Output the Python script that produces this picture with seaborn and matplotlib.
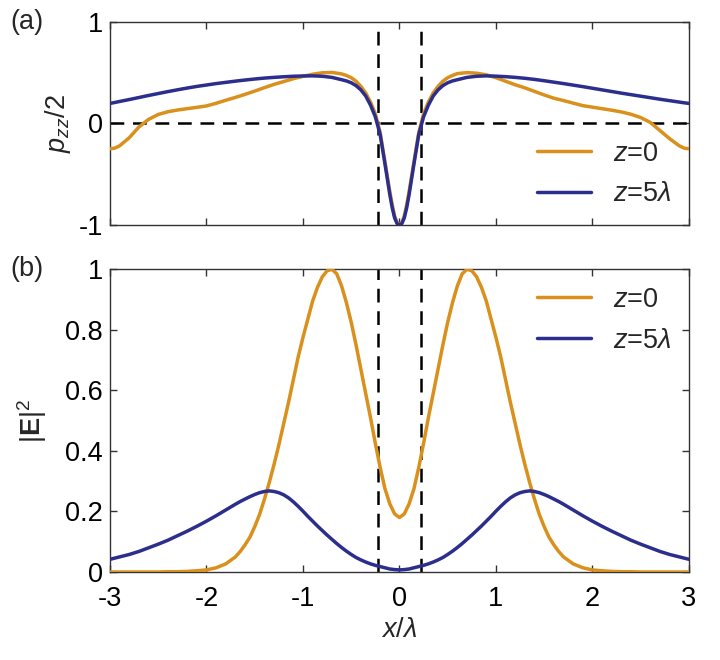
import numpy as np
import pandas as pd
import matplotlib
matplotlib.use('Agg')
import matplotlib.pyplot as plt
import seaborn as sns

# ---- (a) p_zz/2 ----
top_x = [-3.0, -2.95, -2.9, -2.8, -2.7, -2.6, -2.5, -2.4, -2.3, -2.2, -2.1, -2.0, -1.9, -1.8, -1.7, -1.6,
         -1.5, -1.4, -1.3, -1.2, -1.1, -1.0, -0.9, -0.8, -0.7, -0.6,
         -0.55, -0.5, -0.45, -0.4, -0.35, -0.3, -0.25, -0.2, -0.15, -0.1, -0.075, -0.05, -0.025, 0.0,
         0.025, 0.05, 0.075, 0.1, 0.15, 0.2, 0.25, 0.3, 0.35, 0.4, 0.45, 0.5, 0.55,
         0.6, 0.7, 0.8, 0.9, 1.0, 1.1, 1.2, 1.3, 1.4, 1.5, 1.6, 1.7, 1.8, 1.9, 2.0,
         2.1, 2.2, 2.3, 2.4, 2.5, 2.6, 2.7, 2.8, 2.9, 2.95, 3.0]

pzz_z0 = [-0.25, -0.243, -0.22, -0.14, -0.035, 0.04, 0.088, 0.115, 0.132, 0.145, 0.158, 0.172, 0.198, 0.228, 0.256, 0.286,
          0.318, 0.352, 0.384, 0.412, 0.44, 0.463, 0.484, 0.498, 0.502, 0.487,
          0.472, 0.45, 0.415, 0.365, 0.30, 0.21, 0.095, -0.09, -0.38, -0.67, -0.80, -0.91, -0.975, -1.0,
          -0.975, -0.91, -0.80, -0.67, -0.38, -0.09, 0.095, 0.21, 0.30, 0.365, 0.415, 0.45, 0.472,
          0.49, 0.50, 0.494, 0.478, 0.45, 0.415, 0.38, 0.35, 0.315, 0.28, 0.248, 0.225, 0.2, 0.175, 0.16,
          0.145, 0.13, 0.113, 0.09, 0.058, 0.01, -0.07, -0.15, -0.22, -0.243, -0.25]

pzz_z5 = [0.197, 0.206, 0.216, 0.235, 0.255, 0.275, 0.294, 0.313, 0.331, 0.348, 0.364, 0.378, 0.392, 0.404, 0.416, 0.427,
          0.437, 0.446, 0.453, 0.459, 0.464, 0.467, 0.468, 0.464, 0.453, 0.43,
          0.418, 0.40, 0.372, 0.33, 0.27, 0.18, 0.065, -0.11, -0.40, -0.70, -0.83, -0.93, -0.985, -1.0,
          -0.985, -0.93, -0.83, -0.70, -0.40, -0.11, 0.065, 0.18, 0.27, 0.33, 0.372, 0.40, 0.418,
          0.43, 0.453, 0.464, 0.468, 0.465, 0.46, 0.453, 0.444, 0.433, 0.42, 0.406, 0.392, 0.377, 0.362, 0.346,
          0.33, 0.314, 0.298, 0.283, 0.268, 0.253, 0.238, 0.224, 0.21, 0.203, 0.197]

# ---- (b) |E|^2 ----
bot_x = [-3.0, -2.9, -2.8, -2.7, -2.6, -2.5, -2.4, -2.3, -2.2, -2.1, -2.0, -1.9, -1.8, -1.7,
         -1.65, -1.6, -1.55, -1.5, -1.45, -1.4, -1.35, -1.3, -1.25, -1.2, -1.15, -1.1, -1.05, -1.0,
         -0.95, -0.9, -0.85, -0.8, -0.75, -0.7, -0.65, -0.6, -0.55, -0.5, -0.45, -0.4, -0.35, -0.3,
         -0.25, -0.2, -0.15, -0.1, -0.05, 0.0,
         0.05, 0.1, 0.15, 0.2, 0.25, 0.3, 0.35, 0.4, 0.45, 0.5, 0.55, 0.6, 0.65, 0.7, 0.75, 0.8,
         0.85, 0.9, 0.95, 1.0, 1.05, 1.1, 1.15, 1.2, 1.25, 1.3, 1.35, 1.4, 1.45, 1.5, 1.55, 1.6, 1.65,
         1.7, 1.8, 1.9, 2.0, 2.1, 2.2, 2.3, 2.4, 2.5, 2.6, 2.7, 2.8, 2.9, 3.0]

e2_z0 = [0.0, 0.0, 0.0, 0.0, 0.0, 0.0, 0.001, 0.001, 0.002, 0.004, 0.007, 0.014, 0.027, 0.05,
         0.068, 0.09, 0.115, 0.15, 0.19, 0.24, 0.295, 0.355, 0.42, 0.49, 0.56, 0.635, 0.71, 0.775,
         0.835, 0.895, 0.94, 0.975, 0.995, 1.0, 0.985, 0.945, 0.89, 0.825, 0.75, 0.67, 0.59, 0.51,
         0.425, 0.345, 0.275, 0.225, 0.192, 0.18,
         0.192, 0.225, 0.275, 0.345, 0.425, 0.51, 0.59, 0.67, 0.75, 0.825, 0.89, 0.945, 0.985, 1.0, 0.995, 0.975,
         0.94, 0.895, 0.835, 0.775, 0.71, 0.635, 0.56, 0.49, 0.42, 0.355, 0.295, 0.24, 0.19, 0.15, 0.115, 0.09, 0.068,
         0.05, 0.027, 0.014, 0.007, 0.004, 0.002, 0.001, 0.001, 0.0, 0.0, 0.0, 0.0, 0.0, 0.0]

e2_z5 = [0.042, 0.05, 0.058, 0.068, 0.080, 0.092, 0.105, 0.12, 0.135, 0.151, 0.168, 0.186, 0.205, 0.224,
         0.233, 0.241, 0.249, 0.256, 0.262, 0.266, 0.268, 0.266, 0.262, 0.255, 0.245, 0.232, 0.217, 0.201,
         0.184, 0.168, 0.152, 0.137, 0.122, 0.108, 0.094, 0.081, 0.069, 0.058, 0.048, 0.040, 0.033, 0.027,
         0.022, 0.018, 0.014, 0.010, 0.008, 0.007,
         0.008, 0.010, 0.014, 0.018, 0.022, 0.027, 0.033, 0.040, 0.048, 0.058, 0.069, 0.081, 0.094, 0.108, 0.122, 0.137,
         0.152, 0.168, 0.184, 0.201, 0.217, 0.232, 0.245, 0.255, 0.262, 0.266, 0.268, 0.266, 0.262, 0.256, 0.249, 0.241, 0.233,
         0.224, 0.205, 0.186, 0.168, 0.151, 0.135, 0.12, 0.105, 0.092, 0.080, 0.068, 0.058, 0.05, 0.042]

slit = [-0.22, 0.22]
x_ticks = [-3, -2, -1, 0, 1, 2, 3]
x_ticklabels = ['-3', '-2', '-1', '0', '1', '2', '3']

orange = '#D9901C'
navy = '#2B2E8C'

sns.set_theme(style='ticks')
plt.rcParams['font.family'] = ['Liberation Sans', 'DejaVu Sans']
plt.rcParams['mathtext.fontset'] = 'custom'
plt.rcParams['mathtext.rm'] = 'Liberation Sans'
plt.rcParams['mathtext.it'] = 'Liberation Sans:italic'
plt.rcParams['mathtext.bf'] = 'Liberation Sans:bold'
plt.rcParams['axes.unicode_minus'] = False
plt.rcParams['axes.edgecolor'] = '#333333'
plt.rcParams['axes.linewidth'] = 1.0
plt.rcParams['xtick.direction'] = 'in'
plt.rcParams['ytick.direction'] = 'in'
plt.rcParams['xtick.color'] = '#333333'
plt.rcParams['ytick.color'] = '#333333'
plt.rcParams['xtick.labelcolor'] = 'black'
plt.rcParams['ytick.labelcolor'] = 'black'

fs = 19.5
lw = 2.5
fig = plt.figure(figsize=(7.2, 6.6), dpi=100)
ax1 = fig.add_axes([0.1528, 0.659, 0.804, 0.308])
ax2 = fig.add_axes([0.1528, 0.1333, 0.804, 0.4587])

dash = dict(color='black', lw=1.8, dashes=(5.5, 3.5), zorder=1)
leg_kw = dict(frameon=False, fontsize=fs, handlelength=2.0, labelspacing=0.55,
              borderaxespad=0.25, handletextpad=0.8)

# (a)
top = pd.DataFrame({'x': top_x, 'z0': pzz_z0, 'z5': pzz_z5})
ax1.axhline(0, **dash)
for s in slit:
    ax1.axvline(s, **dash)
sns.lineplot(data=top, x='x', y='z0', color=orange, lw=lw, label=r'$z$=0', ax=ax1, zorder=3)
sns.lineplot(data=top, x='x', y='z5', color=navy, lw=lw, label=r'$z$=5$\lambda$', ax=ax1, zorder=4)
ax1.set_xlim(-3, 3)
ax1.set_ylim(-1, 1)
ax1.set_yticks([-1, 0, 1])
ax1.set_yticklabels(['-1', '0', '1'])
ax1.set_xticks(x_ticks)
ax1.set_xticklabels([])
ax1.set_xlabel('')
ax1.set_ylabel(r'$p_{zz}/2$', fontsize=fs, labelpad=4)
ax1.legend(loc='lower right', **leg_kw)

# (b)
bot = pd.DataFrame({'x': bot_x, 'z0': e2_z0, 'z5': e2_z5})
for s in slit:
    ax2.axvline(s, **dash)
sns.lineplot(data=bot, x='x', y='z0', color=orange, lw=lw, label=r'$z$=0', ax=ax2, zorder=3)
sns.lineplot(data=bot, x='x', y='z5', color=navy, lw=lw, label=r'$z$=5$\lambda$', ax=ax2, zorder=4)
ax2.set_xlim(-3, 3)
ax2.set_ylim(0, 1)
ax2.set_xticks(x_ticks)
ax2.set_xticklabels(x_ticklabels)
ax2.set_yticks([0, 0.2, 0.4, 0.6, 0.8, 1])
ax2.set_yticklabels(['0', '0.2', '0.4', '0.6', '0.8', '1'])
ax2.set_xlabel(r'$x/\lambda$', fontsize=fs, labelpad=4)
ax2.set_ylabel(r'$|\mathbf{E}|^2$', fontsize=fs, labelpad=12)
ax2.legend(loc='upper right', **leg_kw)

for ax in (ax1, ax2):
    ax.tick_params(labelsize=fs, length=5, width=1, top=True, right=True)
    ax.tick_params(axis='y', pad=5)
    ax.tick_params(axis='x', pad=10)
    for sp in ax.spines.values():
        sp.set_visible(True)

fig.text(0.015, 0.967, '(a)', fontsize=fs, va='center', ha='left')
fig.text(0.015, 0.592, '(b)', fontsize=fs, va='center', ha='left')

fig.savefig('out.png', dpi=100)
